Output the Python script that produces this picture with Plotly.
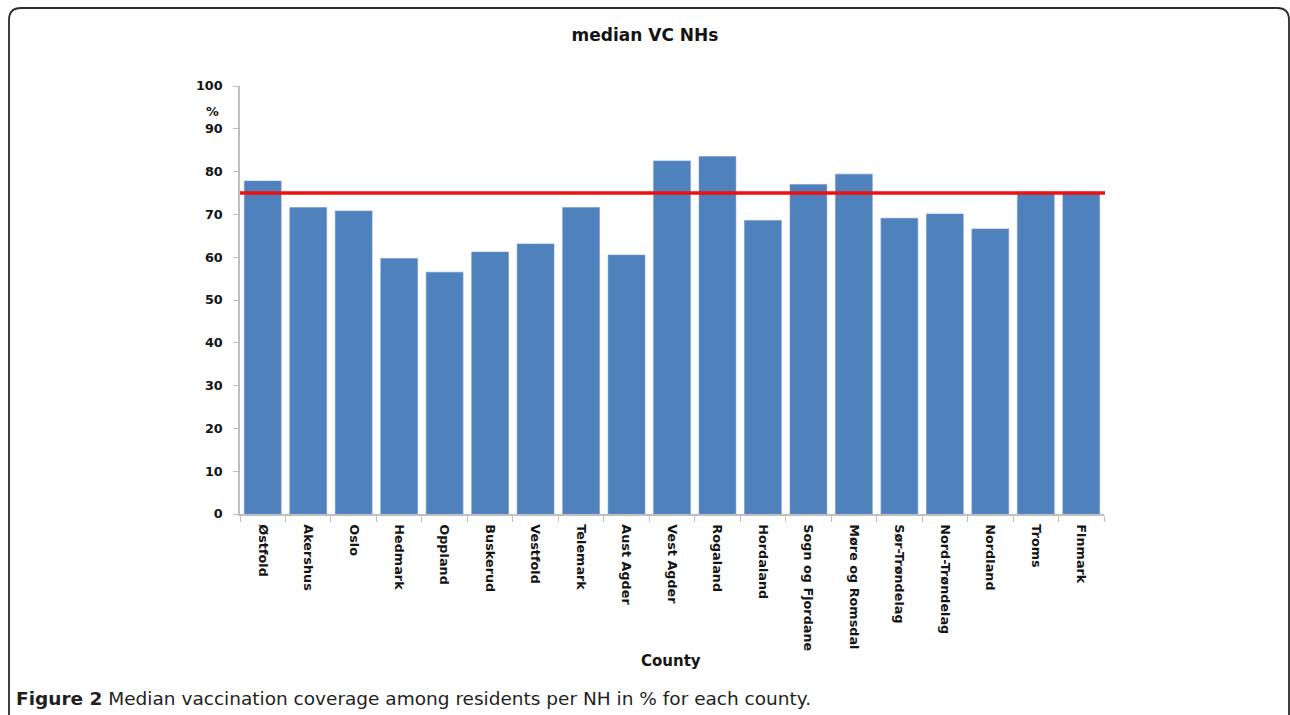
import plotly.graph_objects as go

counties = ["Østfold", "Akershus", "Oslo", "Hedmark", "Oppland", "Buskerud",
            "Vestfold", "Telemark", "Aust Agder", "Vest Agder", "Rogaland",
            "Hordaland", "Sogn og Fjordane", "Møre og Romsdal", "Sør-Trøndelag",
            "Nord-Trøndelag", "Nordland", "Troms", "Finmark"]
median_vc = [77.8, 71.6, 70.8, 59.7, 56.5, 61.2, 63.1, 71.6, 60.5, 82.5,
             83.5, 68.6, 77.0, 79.4, 69.1, 70.1, 66.6, 75.2, 75.2]
target_vc = 75
y_ticks = list(range(0, 101, 10))

W, H = 1290, 715
L, R, T, B = 240, 186, 86, 201
PW, PH = W - L - R, H - T - B


def px(x):
    return (x - L) / PW


def py(y):
    return (H - B - y) / PH


FONT = "DejaVu Sans"
INK = "#141414"
TICK_FONT = dict(family=FONT, size=12.8, color=INK, weight="bold")

fig = go.Figure()
fig.add_trace(go.Bar(
    x=counties, y=median_vc,
    marker=dict(color="#4F81BD", line=dict(color="#6E96CA", width=0.6)),
    showlegend=False,
))

# reference line at the target coverage
fig.add_shape(type="line", xref="paper", yref="y",
              x0=0, x1=px(1105), y0=target_vc, y1=target_vc,
              line=dict(color="#EE1111", width=3.5))

# rounded frame around the figure
x0, x1, y0, y1, r = 9, 1289, 8, 760, 12
frame = (f"M {px(x0)},{py(y1)} L {px(x0)},{py(y0 + r)} "
         f"Q {px(x0)},{py(y0)} {px(x0 + r)},{py(y0)} "
         f"L {px(x1 - r)},{py(y0)} Q {px(x1)},{py(y0)} {px(x1)},{py(y0 + r)} "
         f"L {px(x1)},{py(y1)}")
fig.add_shape(type="path", xref="paper", yref="paper", path=frame,
              line=dict(color="#2b2b2b", width=1.8), layer="above")

fig.add_annotation(text="%", xref="paper", yref="paper",
                   x=px(212.5), y=py(111), xanchor="center", yanchor="middle",
                   showarrow=False, font=TICK_FONT)
fig.add_annotation(text="County", xref="paper", yref="paper",
                   x=px(671), y=py(661), xanchor="center", yanchor="middle",
                   showarrow=False,
                   font=dict(family=FONT, size=15, color=INK, weight="bold"))
fig.add_annotation(text="<b>Figure 2</b> Median vaccination coverage among residents per NH in % for each county.",
                   xref="paper", yref="paper", x=px(14), y=py(698),
                   xanchor="left", yanchor="middle", showarrow=False,
                   font=dict(family=FONT, size=18.5, color="#231f20"))

fig.update_layout(
    width=W, height=H,
    margin=dict(l=L, r=R, t=T, b=B),
    paper_bgcolor="white", plot_bgcolor="white",
    bargap=0.19,
    title=dict(text="median VC NHs", x=645 / W, xanchor="center", xref="container",
               y=1 - 35 / H, yanchor="middle",
               font=dict(family=FONT, size=17, color=INK, weight="bold")),
    xaxis=dict(
        showline=True, linecolor="#BFBFBF", linewidth=1.5,
        ticks="outside", ticklen=6, tickcolor="#BFBFBF", tickson="boundaries",
        tickangle=90, tickfont=TICK_FONT, showgrid=False,
        ticklabelstandoff=6,
    ),
    yaxis=dict(
        range=[0, 100], tickvals=y_ticks,
        showline=True, linecolor="#BFBFBF", linewidth=1.5,
        ticks="outside", ticklen=5, tickcolor="#BFBFBF",
        tickfont=TICK_FONT, showgrid=False, zeroline=False,
        ticklabelstandoff=8,
    ),
)

fig.write_html("out.html")
